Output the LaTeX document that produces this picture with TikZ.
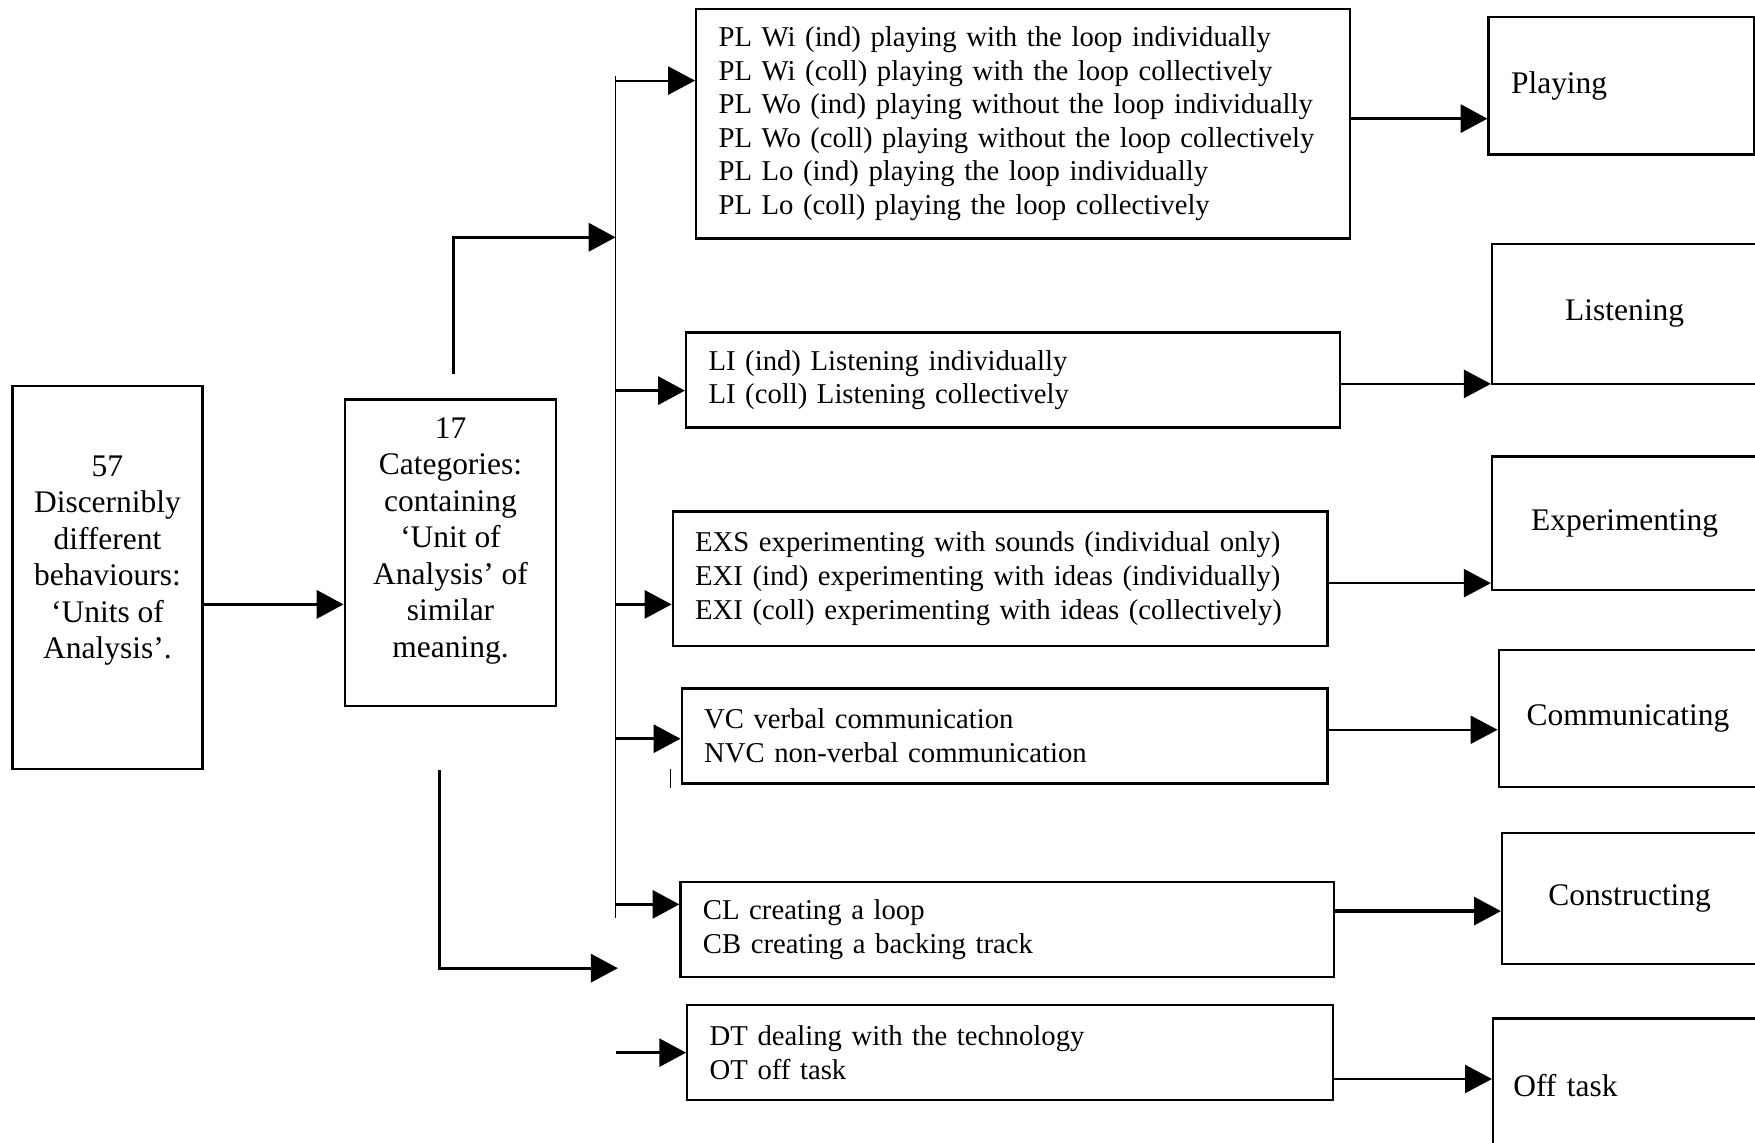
\documentclass[tikz,border=0pt]{standalone}
\usepackage{fontspec}
\setmainfont{Liberation Serif}
\usetikzlibrary{arrows.meta}
\tikzset{
  box/.style={draw, line width=1.2pt, inner sep=0pt},
  codes/.style={box, align=left, inner xsep=0.4cm, font=\fontsize{14.6}{17.07}\selectfont},
  cat/.style={box, align=center, font=\fontsize{16}{18.5}\selectfont},
  big/.style={align=center, font=\fontsize{16}{18.55}\selectfont},
  arr/.style={line width=1.1pt, -{Triangle[length=0.48cm,width=0.5cm]}},
  bus/.style={line width=0.85pt}
}
\begin{document}
\begin{tikzpicture}[x=0.02cm, y=-0.02cm]
  \useasboundingbox (0,0) rectangle (1568,1021);
  \node[box, minimum width=3.4cm, minimum height=6.84cm,
    label={[big, yshift=0.3cm]center:57\\Discernibly\\different\\behaviours:\\‘Units of\\Analysis’.}] (U) at (96,516) {};
  \node[box, minimum width=3.78cm, minimum height=5.48cm,
    label={[big, yshift=0.22cm]center:17\\Categories:\\containing\\‘Unit of\\Analysis’ of\\similar\\meaning.}] (C) at (402.5,494) {};

  \node[codes, text width=10.88cm, minimum height=4.1cm] (pl) at (914,110.5) {PL Wi (ind) playing with the loop individually\\PL Wi (coll) playing with the loop collectively\\PL Wo (ind) playing without the loop individually\\PL Wo (coll) playing without the loop collectively\\PL Lo (ind) playing the loop individually\\PL Lo (coll) playing the loop collectively};
  \node[codes, text width=10.88cm, minimum height=1.7cm] (li) at (905,339.5) {LI (ind) Listening individually\\LI (coll) Listening collectively};
  \node[codes, text width=10.9cm, minimum height=2.4cm] (ex) at (893.5,517) {EXS experimenting with sounds (individual only)\\EXI (ind) experimenting with ideas (individually)\\EXI (coll) experimenting with ideas (collectively)};
  \node[codes, text width=10.74cm, minimum height=1.7cm] (vc) at (897.5,657.5) {VC verbal communication\\NVC non-verbal communication};
  \node[codes, text width=10.88cm, minimum height=1.7cm] (cl) at (900,830.5) {CL creating a loop\\CB creating a backing track};
  \node[codes, text width=10.74cm, minimum height=1.7cm] (dt) at (902.5,940.5) {DT dealing with the technology\\OT off task};

  \node[cat, align=left, inner xsep=0.4cm, text width=3.94cm, minimum height=2.46cm] (playing) at (1448.5,76.5) {Playing};
  \node[cat, minimum width=4.74cm, minimum height=2.5cm] (listen) at (1451.5,280.5) {Listening};
  \node[cat, minimum width=4.74cm, minimum height=2.38cm] (exper) at (1451.5,467.5) {Experimenting};
  \node[cat, minimum width=4.62cm, minimum height=2.44cm] (commu) at (1454.5,642) {Communicating};
  \node[cat, minimum width=4.56cm, minimum height=2.34cm] (constr) at (1456,802.5) {Constructing};
  \node[cat, align=left, inner xsep=0.36cm, text width=4cm, minimum height=2.4cm] (off) at (1452,970) {Off task};

  \coordinate (bus top) at (550,68);
  \coordinate (bus bot) at (550,820);
  \coordinate (J1) at (550,212);
  \coordinate (J2) at (552,865);
  \coordinate (a1) at ([yshift=-0.48cm]U.east);
  \draw[bus] (bus top) -- (bus bot);
  \draw[arr, line width=1.7pt] (a1) -- (a1 -| C.west);
  \draw[arr, line width=1.7pt] ([xshift=0.05cm,yshift=0.44cm]C.north) |- (J1);
  \draw[arr, line width=1.5pt] ([xshift=-0.19cm,yshift=-1.12cm]C.south) |- (J2);

  \coordinate (in1) at ([yshift=0.77cm]pl.west);
  \coordinate (in2) at ([yshift=-0.19cm]li.west);
  \coordinate (in3) at ([yshift=-0.46cm]ex.west);
  \coordinate (in4) at ([yshift=-0.05cm]vc.west);
  \coordinate (in5) at ([yshift=0.45cm]cl.west);
  \coordinate (in6) at (dt.west);
  \foreach \i/\w in {1/1.1pt,2/1.7pt,3/1.4pt,4/1.4pt,5/1.7pt,6/1.4pt}
    \draw[arr, line width=\w] (bus top |- in\i) -- (in\i);

  \coordinate (out1) at ([yshift=0.09cm]pl.east);
  \coordinate (out2) at ([yshift=-0.07cm]li.east);
  \coordinate (out3) at ([yshift=-0.08cm]ex.east);
  \coordinate (out4) at ([yshift=0.11cm]vc.east);
  \coordinate (out5) at ([yshift=0.33cm]cl.east);
  \coordinate (out6) at ([yshift=-0.47cm]dt.east);
  \foreach \i/\t/\w in {1/playing/1.7pt,2/listen/1.3pt,3/exper/1.1pt,4/commu/1.1pt,5/constr/1.7pt,6/off/1.1pt}
    \draw[arr, line width=\w] (out\i) -- (out\i -| \t.west);

  \draw[bus] ([xshift=-0.18cm,yshift=-0.06cm]vc.south west) -- ++(0,-17);
\end{tikzpicture}
\end{document}
